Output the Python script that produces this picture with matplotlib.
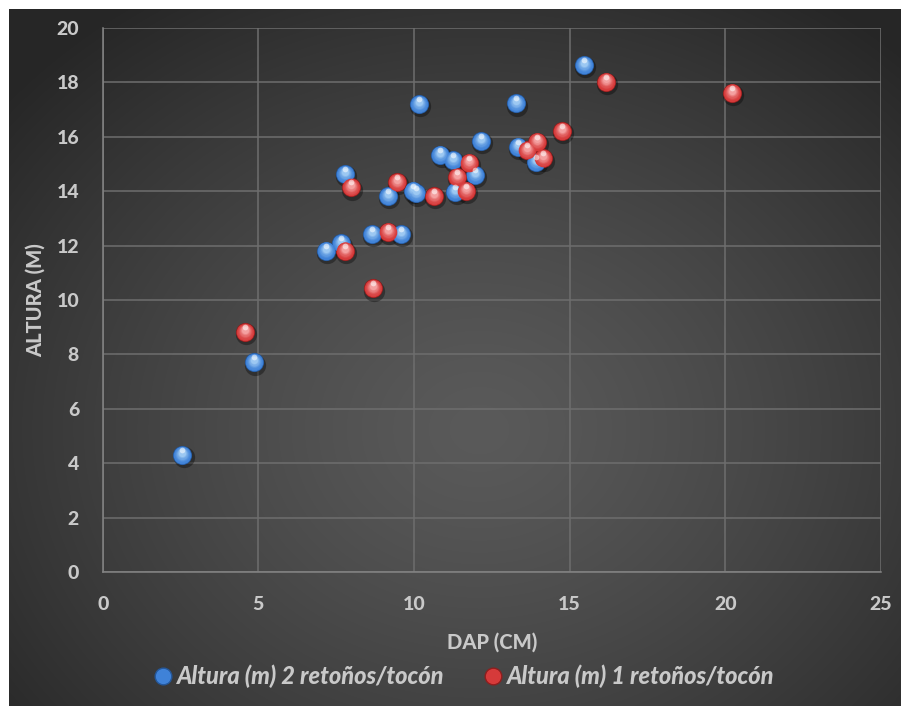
import matplotlib
matplotlib.use("Agg")
import matplotlib.pyplot as plt
import numpy as np
from matplotlib import font_manager as fm
from matplotlib.lines import Line2D
from matplotlib.transforms import offset_copy
from matplotlib.colors import to_rgb

# DAP (cm) / altura (m)
dap_2 = [2.56, 4.86, 7.16, 7.66, 7.77, 8.65, 9.17, 9.58, 9.96, 10.06,
         10.17, 10.85, 11.26, 11.33, 11.97, 12.15, 13.27, 13.35, 13.91, 15.46]
alt_2 = [4.30, 7.71, 11.81, 12.08, 14.63, 12.43, 13.82, 12.43, 14.02, 13.92,
         17.20, 15.34, 15.15, 13.98, 14.60, 15.85, 17.23, 15.64, 15.08, 18.64]

dap_1 = [4.56, 7.77, 7.96, 8.67, 9.17, 9.45, 10.65, 11.37, 11.67, 11.75,
         13.64, 13.96, 14.15, 14.76, 16.17, 20.21]
alt_1 = [8.82, 11.81, 14.14, 10.43, 12.51, 14.33, 13.82, 14.53, 14.02, 15.05,
         15.50, 15.82, 15.21, 16.22, 18.03, 17.62]

label_2 = "Altura (m) 2 retoños/tocón"
label_1 = "Altura (m) 1 retoños/tocón"

x_ticks = [0, 5, 10, 15, 20, 25]
y_ticks = [0, 2, 4, 6, 8, 10, 12, 14, 16, 18, 20]

txt = "#c9c9c9"
grid = "#6e6e6e"


# pick a family that really ships a bold italic face
def has_face(name):
    faces = [f for f in fm.fontManager.ttflist if f.name == name]
    bold = [f for f in faces if f.weight in (600, 700, 800, 900, "bold", "semibold", "heavy", "black")]
    return bool(bold) and any(f.style in ("italic", "oblique") for f in bold)


family = next((n for n in ["Lato", "Open Sans", "Noto Sans", "Liberation Sans"] if has_face(n)),
              "DejaVu Sans")
plt.rcParams["font.family"] = [family, "DejaVu Sans"]
plt.rcParams["font.weight"] = 900
plt.rcParams["axes.labelweight"] = 900

fig = plt.figure(figsize=(9.01, 7.06), dpi=100)
fig.patch.set_facecolor("white")

# dark radial background
bg = fig.add_axes([9 / 901, 0, 892 / 901, 697 / 706])
bg.set_axis_off()
h, w = 697, 892
yy, xx = np.mgrid[0:h, 0:w]
r = np.hypot((xx - 470) / 620.0, (yy - 420) / 520.0)
t = np.clip(r, 0, 1) ** 1.3
c0, c1 = 0x5a / 255, 0x26 / 255
img = c0 + (c1 - c0) * t
bg.imshow(np.dstack([img, img, img]), aspect="auto", interpolation="bilinear")

ax = fig.add_axes([102.7 / 901, 134 / 706, (881 - 102.7) / 901, (572 - 28) / 706])
ax.patch.set_alpha(0)
ax.set_xlim(0, 25)
ax.set_ylim(0, 20)
ax.set_xticks(x_ticks)
ax.set_yticks(y_ticks)
ax.grid(True, color=grid, linewidth=1.1)
ax.set_axisbelow(True)
for s in ["top", "right"]:
    ax.spines[s].set_visible(False)
for s in ["left", "bottom"]:
    ax.spines[s].set_color("#858585")
    ax.spines[s].set_linewidth(1.1)
ax.tick_params(axis="y", length=0, pad=17, labelsize=14, labelcolor=txt)
ax.tick_params(axis="x", length=0, pad=17, labelsize=14, labelcolor=txt)
ax.set_xlabel("DAP (CM)", fontsize=14.5, fontweight=900, color=txt, labelpad=14)
ax.set_ylabel("ALTURA (M)", fontsize=14.5, fontweight=900, color=txt, labelpad=8)


def mix(a, b, f):
    a, b = np.array(to_rgb(a)), np.array(to_rgb(b))
    return tuple(a + (b - a) * f)


def spheres(x, y, dark, base, light, d=13.8):
    sh = offset_copy(ax.transData, fig=fig, x=0.8, y=-1.6, units="points")
    ax.scatter(x, y, s=(d + 1.5) ** 2, color=(0, 0, 0, 0.35), lw=0, transform=sh, zorder=3)
    ax.scatter(x, y, s=d ** 2, color=dark, lw=0, zorder=4)
    n = 9
    for k in range(n):
        f = k / (n - 1)
        dk = d * (0.92 - 0.55 * f)
        tr = offset_copy(ax.transData, fig=fig, x=0, y=1.6 * f, units="points")
        ax.scatter(x, y, s=dk ** 2, color=mix(base, light, f ** 1.5), lw=0,
                   transform=tr, zorder=5)
    hl = offset_copy(ax.transData, fig=fig, x=0, y=3.6, units="points")
    ax.scatter(x, y, s=(d * 0.3) ** 2, marker="o", color=(1, 1, 1, 0.55), lw=0,
               transform=hl, zorder=6)


spheres(dap_2, alt_2, "#24579a", "#3f82d8", "#9cc8f2")
spheres(dap_1, alt_1, "#8e1e1e", "#d63a3a", "#f4a0a0")

handles = [
    Line2D([], [], marker="o", ls="", markersize=12, markerfacecolor="#3f82d8",
           markeredgecolor="#24579a", label=label_2),
    Line2D([], [], marker="o", ls="", markersize=12, markerfacecolor="#d63a3a",
           markeredgecolor="#8e1e1e", label=label_1),
]
leg = fig.legend(handles=handles, loc="center", bbox_to_anchor=(462 / 901, 1 - 676 / 706),
                 ncol=2, frameon=False, handletextpad=0.05, columnspacing=1.6,
                 handlelength=1.0,
                 prop={"size": 17, "weight": 900, "style": "italic"})
for tx in leg.get_texts():
    tx.set_color(txt)

fig.savefig("out.png", dpi=100)
